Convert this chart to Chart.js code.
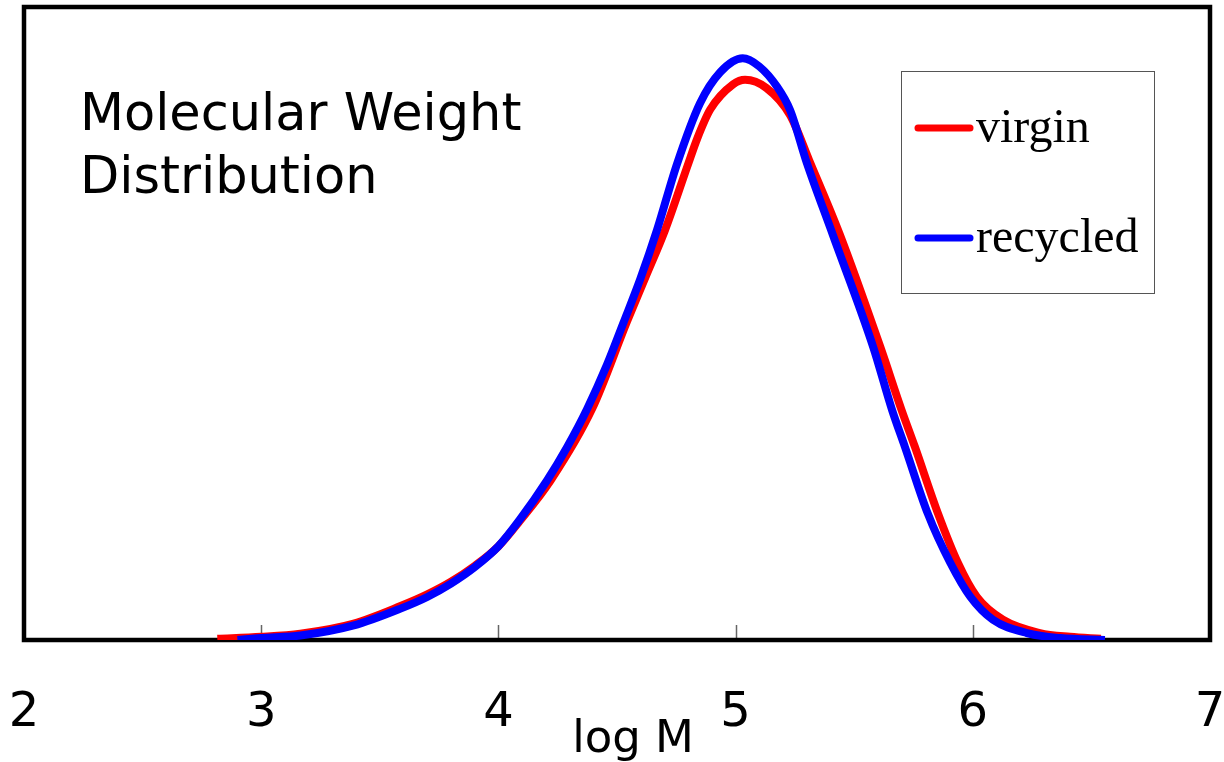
<!DOCTYPE html>
<html>
<head>
<meta charset="utf-8">
<script src="https://cdn.jsdelivr.net/npm/chart.js@4"></script>
<style>
  html, body { margin: 0; padding: 0; background: #fff; }
  #wrap { position: relative; width: 1224px; height: 762px; }
</style>
</head>
<body>
<div id="wrap"><canvas id="chart"></canvas></div>
<script>
// log M positions and normalised signal
const virginLogM = [2.815, 3.0, 3.165, 3.39, 3.59, 3.70, 3.80, 3.90, 4.0, 4.09, 4.22, 4.396, 4.543, 4.62, 4.703, 4.8, 4.838, 4.893, 4.99, 5.04, 5.13, 5.23, 5.31, 5.44, 5.61, 5.70, 5.756, 5.853, 5.937, 6.017, 6.127, 6.283, 6.41, 6.54];
const virginSignal = [0.002, 0.005, 0.010, 0.026, 0.054, 0.072, 0.092, 0.117, 0.148, 0.188, 0.252, 0.366, 0.504, 0.573, 0.648, 0.752, 0.792, 0.838, 0.878, 0.885, 0.872, 0.829, 0.758, 0.640, 0.463, 0.363, 0.305, 0.200, 0.122, 0.068, 0.032, 0.011, 0.005, 0.002];

const recycledLogM = [2.90, 3.0, 3.165, 3.39, 3.59, 3.70, 3.80, 3.90, 4.0, 4.09, 4.205, 4.29, 4.374, 4.458, 4.526, 4.598, 4.669, 4.753, 4.85, 4.935, 5.03, 5.10, 5.175, 5.23, 5.30, 5.41, 5.58, 5.66, 5.714, 5.81, 5.905, 5.99, 6.085, 6.228, 6.37, 6.557];
const recycledSignal = [0.0, 0.003, 0.007, 0.023, 0.050, 0.068, 0.089, 0.115, 0.148, 0.190, 0.252, 0.305, 0.365, 0.435, 0.500, 0.570, 0.648, 0.752, 0.848, 0.897, 0.919, 0.906, 0.874, 0.837, 0.754, 0.640, 0.463, 0.363, 0.305, 0.200, 0.122, 0.068, 0.032, 0.011, 0.003, 0.0];

const xTicks = [2, 3, 4, 5, 6, 7];
const innerTicks = [3, 4, 5, 6];
const titleLines = ["Molecular Weight", "Distribution"];
const xTitle = "log M";

const toPoints = (xs, ys) => xs.map((x, i) => ({ x: x, y: ys[i] }));

// frame + inward tick marks under the curves
const framePlugin = {
  id: "frame",
  beforeDatasetsDraw(chart) {
    const { ctx, chartArea: a, scales } = chart;
    ctx.save();
    ctx.strokeStyle = "#666";
    ctx.lineWidth = 1.5;
    innerTicks.forEach(v => {
      const px = Math.round(scales.x.getPixelForValue(v)) + 0.5;
      ctx.beginPath();
      ctx.moveTo(px, a.bottom - 2);
      ctx.lineTo(px, a.bottom - 15);
      ctx.stroke();
    });
    ctx.strokeStyle = "#000";
    ctx.lineWidth = 4.5;
    ctx.strokeRect(a.left, a.top, a.right - a.left, a.bottom - a.top);
    ctx.restore();
  }
};

// title, legend box and axis label
const textPlugin = {
  id: "texts",
  afterDraw(chart) {
    const { ctx } = chart;
    ctx.save();
    ctx.fillStyle = "#000";
    ctx.textBaseline = "alphabetic";
    ctx.textAlign = "left";
    ctx.font = "51px 'DejaVu Sans'";
    ctx.fillText(titleLines[0], 80, 130);
    ctx.fillText(titleLines[1], 80, 193);

    // legend
    ctx.strokeStyle = "#555";
    ctx.lineWidth = 1;
    ctx.strokeRect(901.5, 71.5, 253, 222);
    ctx.font = "48px 'Liberation Serif'";
    const rows = [128, 238];
    chart.data.datasets.forEach((ds, i) => {
      ctx.strokeStyle = ds.borderColor;
      ctx.lineWidth = 7;
      ctx.lineCap = "round";
      ctx.beginPath();
      ctx.moveTo(918, rows[i]);
      ctx.lineTo(970, rows[i]);
      ctx.stroke();
      ctx.fillText(ds.label, 976, rows[i] + 14);
    });

    ctx.font = "45px 'DejaVu Sans'";
    ctx.textAlign = "center";
    ctx.fillText(xTitle, 633, 752);
    ctx.restore();
  }
};

new Chart(document.getElementById("chart"), {
  type: "line",
  data: {
    datasets: [
      {
        label: "virgin",
        data: toPoints(virginLogM, virginSignal),
        borderColor: "#ff0000",
        borderWidth: 8,
        pointRadius: 0,
        cubicInterpolationMode: "monotone",
        fill: false,
        order: 2,
      },
      {
        label: "recycled",
        data: toPoints(recycledLogM, recycledSignal),
        borderColor: "#0000ff",
        borderWidth: 8,
        pointRadius: 0,
        cubicInterpolationMode: "monotone",
        fill: false,
        order: 1,
      },
    ],
  },
  options: {
    responsive: true,
    maintainAspectRatio: false,
    animation: false,
    layout: { padding: { left: 24, right: 14, top: 7, bottom: 0 } },
    plugins: {
      legend: { display: false },
      tooltip: { enabled: false },
    },
    scales: {
      x: {
        type: "linear",
        min: 2,
        max: 7,
        afterBuildTicks: (scale) => {
          scale.ticks = xTicks.map(v => ({ value: v }));
        },
        afterFit: (scale) => {
          scale.paddingLeft = 0;
          scale.paddingRight = 0;
          scale.height = 122;
        },
        grid: { display: false, drawTicks: false },
        border: { display: false },
        ticks: {
          padding: 45,
          color: "#000",
          font: { family: "DejaVu Sans", size: 48 },
          maxRotation: 0,
        },
      },
      y: {
        display: false,
        min: 0,
        max: 1,
      },
    },
  },
  plugins: [framePlugin, textPlugin],
});
</script>
</body>
</html>
